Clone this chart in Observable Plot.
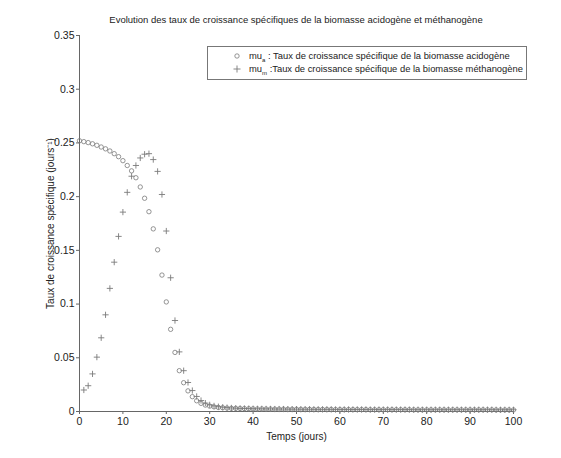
<!DOCTYPE html>
<html>
<head>
<meta charset="utf-8">
<script src="https://cdn.jsdelivr.net/npm/d3@7"></script>
<script src="https://cdn.jsdelivr.net/npm/@observablehq/plot@0.6"></script>
<style>
  body { margin: 0; background: #fff; font-family: "Liberation Sans", Arial, sans-serif; }
  #wrap { position: relative; width: 561px; height: 458px; overflow: hidden; }
  #title { position: absolute; left: 0; width: 592px; top: 14px; text-align: center; font-size: 9.5px; color: #222; }
  #legend { position: absolute; left: 207px; top: 46px; width: 320px; height: 34px; border: 1px solid #777; background: #fff; box-sizing: border-box; font-size: 9.4px; color: #222; }
  .row { position: absolute; left: 0; height: 14px; line-height: 14px; white-space: nowrap; }
  .row svg { position: absolute; left: 24px; top: 2px; }
  .row span.t { position: absolute; left: 41px; }
  sub { font-size: 6px; vertical-align: -3px; }
</style>
</head>
<body>
<div id="wrap">
  <div id="chart"></div>
  <div id="title"></div>
  <div id="legend"></div>
</div>
<script>
const titleText = "Evolution des taux  de croissance spécifiques de la biomasse acidogène et méthanogène";
const xLabel = "Temps (jours)";
const yLabel = "Taux de croissance spécifique (jours⁻¹)";
const legendA = ["mu", "a", " : Taux de croissance spécifique de la biomasse acidogène"];
const legendM = ["mu", "m", " :Taux de croissance spécifique de la biomasse méthanogène"];
const xTicks = [0, 10, 20, 30, 40, 50, 60, 70, 80, 90, 100];
const yTicks = [0, 0.05, 0.1, 0.15, 0.2, 0.25, 0.3, 0.35];

const days = [0,1,2,3,4,5,6,7,8,9,10,11,12,13,14,15,16,17,18,19,20,
  21,22,23,24,25,26,27,28,29,30,31,32,33,34,35,36,37,38,39,40,
  41,42,43,44,45,46,47,48,49,50,51,52,53,54,55,56,57,58,59,60,
  61,62,63,64,65,66,67,68,69,70,71,72,73,74,75,76,77,78,79,80,
  81,82,83,84,85,86,87,88,89,90,91,92,93,94,95,96,97,98,99,100];

// mu_a : biomasse acidogène (cercles)
const muA = [0.2520,0.2512,0.2503,0.2492,0.2478,0.2462,0.2445,0.2425,0.2400,0.2372,0.2335,
  0.2290,0.2240,0.2176,0.2090,0.1985,0.1860,0.1700,0.1505,0.1270,0.1020,
  0.0765,0.0550,0.0380,0.0268,0.0192,0.0138,0.0100,0.0076,0.0060,0.0050,
  0.0043,0.0038,0.0035,0.0032,0.0030,0.0029,0.0028,0.0027,0.0026,0.0025,
  0.0024,0.0024,0.0023,0.0023,0.0022,0.0022,0.0022,0.0021,0.0021,0.0021,
  0.0020,0.0020,0.0020,0.0019,0.0019,0.0019,0.0019,0.0019,0.0018,0.0018,
  0.0018,0.0018,0.0018,0.0018,0.0018,0.0018,0.0017,0.0017,0.0017,0.0017,
  0.0017,0.0017,0.0017,0.0017,0.0017,0.0017,0.0016,0.0016,0.0016,0.0016,
  0.0016,0.0016,0.0016,0.0016,0.0016,0.0016,0.0016,0.0016,0.0016,0.0016,
  0.0016,0.0016,0.0016,0.0016,0.0016,0.0015,0.0015,0.0015,0.0015,0.0015];

// mu_m : biomasse méthanogène (croix)
const muM = [null,0.0200,0.0240,0.0350,0.0506,0.0686,0.0900,0.1146,0.1390,0.1630,0.1856,
  0.2040,0.2190,0.2290,0.2360,0.2395,0.2400,0.2345,0.2235,0.2020,0.1680,
  0.1245,0.0847,0.0555,0.0380,0.0270,0.0195,0.0140,0.0102,0.0078,0.0062,
  0.0052,0.0045,0.0040,0.0036,0.0033,0.0031,0.0029,0.0028,0.0027,0.0026,
  0.0025,0.0025,0.0024,0.0024,0.0023,0.0023,0.0023,0.0022,0.0022,0.0022,
  0.0021,0.0021,0.0021,0.0020,0.0020,0.0020,0.0020,0.0020,0.0019,0.0019,
  0.0019,0.0019,0.0019,0.0019,0.0019,0.0019,0.0018,0.0018,0.0018,0.0018,
  0.0018,0.0018,0.0018,0.0018,0.0018,0.0018,0.0017,0.0017,0.0017,0.0017,
  0.0017,0.0017,0.0017,0.0017,0.0017,0.0017,0.0017,0.0017,0.0017,0.0017,
  0.0017,0.0017,0.0017,0.0017,0.0017,0.0016,0.0016,0.0016,0.0016,0.0016];

const dataA = days.map((d, i) => ({t: d, v: muA[i]}));
const dataM = days.map((d, i) => ({t: d, v: muM[i]}));

const plusSymbol = {
  draw(ctx, size) {
    const r = Math.sqrt(size) / 2;
    ctx.moveTo(-r, 0); ctx.lineTo(r, 0);
    ctx.moveTo(0, -r); ctx.lineTo(0, r);
  }
};

const markColor = "#7a7a7a";
const axisColor = "#666";

const chart = Plot.plot({
  width: 561,
  height: 458,
  marginLeft: 79,
  marginRight: 48,
  marginTop: 35,
  marginBottom: 47,
  style: {fontFamily: "'Liberation Sans', Arial, sans-serif", background: "#fff", color: "#222"},
  x: {domain: [0, 100]},
  y: {domain: [0, 0.35]},
  marks: [
    Plot.axisX({ticks: xTicks, tickSize: 3, tickPadding: 3, fontSize: 10.5, stroke: axisColor, label: xLabel, labelAnchor: "center", labelArrow: "none", labelOffset: 28, tickFormat: d => String(d)}),
    Plot.axisY({ticks: yTicks, tickSize: 3, tickPadding: 2, fontSize: 10.5, stroke: axisColor, label: yLabel, labelAnchor: "center", labelArrow: "none", labelOffset: 33, tickFormat: d => String(d)}),
    Plot.ruleX([xTicks[0]], {stroke: axisColor}),
    Plot.ruleY([yTicks[0]], {stroke: axisColor}),
    Plot.dot(dataA, {x: "t", y: "v", r: 2.2, stroke: markColor, strokeWidth: 0.8, fill: "none"}),
    Plot.dot(dataM.filter(d => d.v != null), {x: "t", y: "v", symbol: plusSymbol, r: 3.5, stroke: markColor, strokeWidth: 0.9, fill: "none"})
  ]
});
document.getElementById("chart").appendChild(chart);

d3.select(chart).selectAll("[aria-label='x-axis label'] text, [aria-label='y-axis label'] text").style("font-size", "10px");

document.getElementById("title").textContent = titleText;

const legend = document.getElementById("legend");
function addRow(parts, top, kind) {
  const row = document.createElement("div");
  row.className = "row";
  row.style.top = top + "px";
  const sym = kind === "o"
    ? `<svg width="10" height="10"><circle cx="5" cy="5" r="2.2" fill="none" stroke="${markColor}" stroke-width="0.8"/></svg>`
    : `<svg width="10" height="10"><path d="M1.5,5H8.5M5,1.5V8.5" stroke="${markColor}" stroke-width="0.9"/></svg>`;
  row.innerHTML = sym + `<span class="t">${parts[0]}<sub>${parts[1]}</sub>${parts[2]}</span>`;
  legend.appendChild(row);
}
addRow(legendA, 2, "o");
addRow(legendM, 15, "+");
</script>
</body>
</html>
